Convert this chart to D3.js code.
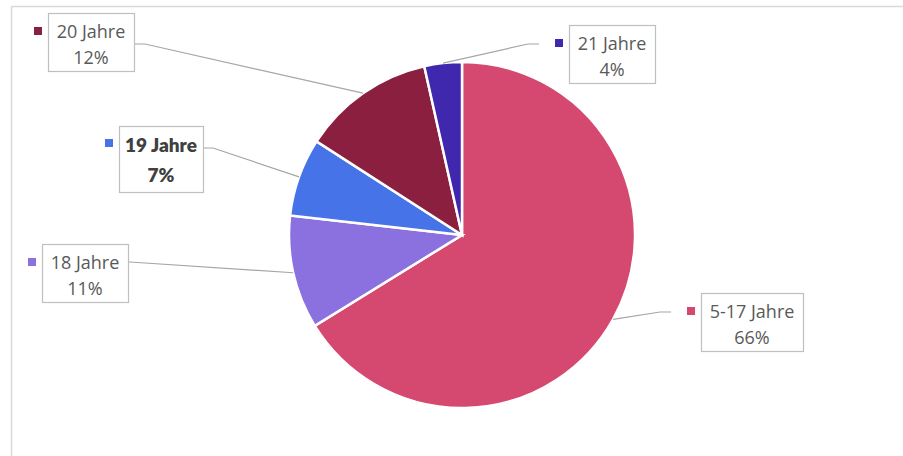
<!DOCTYPE html>
<html>
<head>
<meta charset="utf-8">
<script src="https://cdn.jsdelivr.net/npm/d3@7"></script>
<style>
  body { margin: 0; background: #fff; }
  svg { display: block; }
</style>
</head>
<body>
<script>
// data (slice order: clockwise from 12 o'clock)
var categories = ["5-17 Jahre", "18 Jahre", "19 Jahre", "20 Jahre", "21 Jahre"];
var shares = [66.2, 10.6, 7.3, 12.4, 3.5];
var colors = ["#D5486F", "#8B71E0", "#4674E8", "#8B1F3F", "#3F27AE"];

var w = 903, h = 456;
var cx = 462, cy = 235, r = 173;

// label box layout (x, y, width, height) + elbow point of the leader line
var boxes = [
    {x: 701, y: 293, w: 102, h: 58, elbow: [660, 312], end: [671, 312]},
    {x: 42,  y: 244, w: 86,  h: 58, elbow: [130, 262], end: [128, 262]},
    {x: 119, y: 126, w: 84,  h: 66, elbow: [213, 148], end: [204, 148], bold: true},
    {x: 48,  y: 13,  w: 86,  h: 58, elbow: [145, 44],  end: [134, 44]},
    {x: 569, y: 25,  w: 86,  h: 58, elbow: [528, 44],  end: [539, 44]}
];

var svg = d3.select("body").append("svg")
    .attr("width", w)
    .attr("height", h);

// chart frame
svg.append("rect")
    .attr("x", 11.5).attr("y", 6.5)
    .attr("width", 1000).attr("height", 1000)
    .attr("fill", "none")
    .attr("stroke", "#D9D9D9")
    .attr("stroke-width", 1.5);

var dataset = categories.map(function(c, i) {
    return {name: c, value: shares[i], color: colors[i], box: boxes[i]};
});

var pie = d3.pie().sort(null).value(function(d) { return d.value; });
var arc = d3.arc().innerRadius(0).outerRadius(r);
var arcs = pie(dataset);

var g = svg.append("g").attr("transform", "translate(" + cx + "," + cy + ")");

g.selectAll("path.slice")
    .data(arcs)
    .enter()
    .append("path")
    .attr("class", "slice")
    .attr("d", arc)
    .attr("fill", function(d) { return d.data.color; })
    .attr("stroke", "#fff")
    .attr("stroke-width", 2.5);

// leader lines from the rim (mid angle) to the boxes
svg.selectAll("polyline.leader")
    .data(arcs)
    .enter()
    .append("polyline")
    .attr("class", "leader")
    .attr("points", function(d) {
        var a = (d.startAngle + d.endAngle) / 2;
        var px = cx + r * Math.sin(a), py = cy - r * Math.cos(a);
        var b = d.data.box;
        return [[px, py], b.elbow, b.end].map(function(p) { return p.join(","); }).join(" ");
    })
    .attr("fill", "none")
    .attr("stroke", "#A6A6A6")
    .attr("stroke-width", 1.2);

var labels = svg.selectAll("g.label")
    .data(arcs)
    .enter()
    .append("g")
    .attr("class", "label");

labels.append("rect")
    .attr("x", function(d) { return d.data.box.x + 0.5; })
    .attr("y", function(d) { return d.data.box.y + 0.5; })
    .attr("width", function(d) { return d.data.box.w; })
    .attr("height", function(d) { return d.data.box.h; })
    .attr("fill", "#fff")
    .attr("stroke", "#BFBFBF")
    .attr("stroke-width", 1.2);

// legend-key squares
labels.append("rect")
    .attr("x", function(d) { return d.data.box.x - 14; })
    .attr("y", function(d) { return d.data.box.y + (d.data.box.bold ? 13 : 14); })
    .attr("width", 8).attr("height", 8)
    .attr("fill", function(d) { return d.data.color; });

labels.each(function(d) {
    var b = d.data.box;
    var t = d3.select(this).append("text")
        .attr("text-anchor", "middle")
        .attr("fill", b.bold ? "#404040" : "#595959")
        .style("font-family", b.bold ? "Lato" : "'Open Sans'")
        .style("font-weight", b.bold ? 800 : 400)
        .style("font-size", b.bold ? "19px" : "18px");
    var mx = b.x + b.w / 2;
    t.append("tspan").attr("x", mx).attr("y", b.y + (b.bold ? 26 : 25)).text(d.data.name);
    t.append("tspan").attr("x", mx).attr("y", b.y + (b.bold ? 56 : 51)).text(Math.round(d.data.value) + "%");
});
</script>
</body>
</html>
